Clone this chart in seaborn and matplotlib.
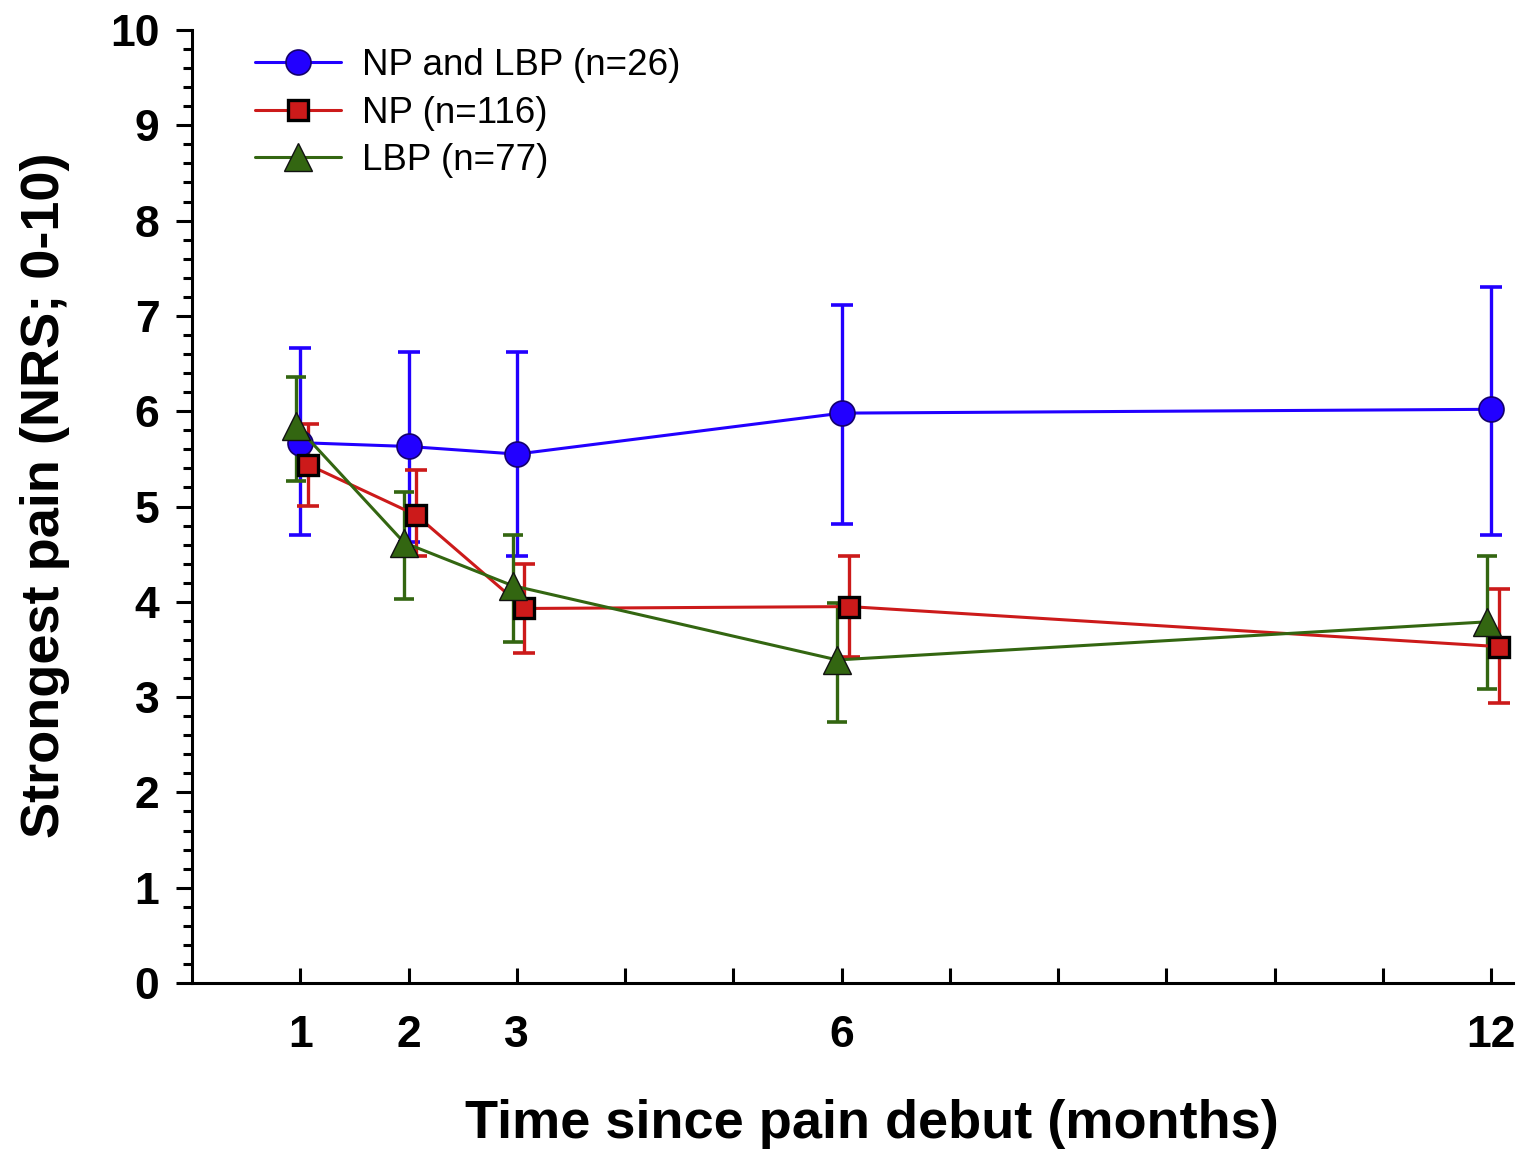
import matplotlib
matplotlib.use("Agg")
import matplotlib.pyplot as plt
import seaborn as sns
import numpy as np
import pandas as pd
from matplotlib.ticker import MultipleLocator, FixedLocator

# ---- data ----
months = [1, 2, 3, 6, 12]
series_names = ["NP and LBP (n=26)", "NP (n=116)", "LBP (n=77)"]

both_mean = [5.67, 5.63, 5.55, 5.98, 6.02]
both_low = [4.70, 4.63, 4.48, 4.82, 4.70]
both_high = [6.66, 6.62, 6.62, 7.11, 7.30]

np_mean = [5.44, 4.91, 3.93, 3.95, 3.53]
np_low = [5.01, 4.48, 3.46, 3.42, 2.94]
np_high = [5.87, 5.38, 4.40, 4.48, 4.13]

lbp_mean = [5.85, 4.62, 4.17, 3.39, 3.79]
lbp_low = [5.27, 4.03, 3.58, 2.74, 3.09]
lbp_high = [6.36, 5.15, 4.70, 3.99, 4.48]

x_tick_positions = list(range(1, 13))
x_tick_labels = ["1", "2", "3", "", "", "6", "", "", "", "", "", "12"]
y_ticks = list(range(0, 11))

# ---- style ----
sns.set_theme(style="ticks")
plt.rcParams["font.family"] = ["Liberation Sans", "DejaVu Sans"]

fig = plt.figure(figsize=(15.29, 11.5), dpi=100)
ax = fig.add_axes([0.1256, 0.1452, 0.9895 - 0.1256, 0.9739 - 0.1452])

styles = [
    dict(color="#2200ff", marker="o", ms=18, mec="#14006e", mew=1.2, cap=8, dodge=0.0),
    dict(color="#cc1a1a", marker="s", ms=14.5, mec="black", mew=2.4, cap=8, dodge=0.07),
    dict(color="#336611", marker="^", ms=19.5, mec="#111111", mew=1.0, cap=7, dodge=-0.04),
]
means = [both_mean, np_mean, lbp_mean]
lows = [both_low, np_low, lbp_low]
highs = [both_high, np_high, lbp_high]

for name, st, m, lo, hi in zip(series_names, styles, means, lows, highs):
    xs = np.array(months, dtype=float) + st["dodge"]
    df = pd.DataFrame({"month": xs, "pain": m})
    m_arr = np.array(m)
    yerr = np.vstack([m_arr - np.array(lo), np.array(hi) - m_arr])
    ax.errorbar(xs, m_arr, yerr=yerr, fmt="none", ecolor=st["color"],
                elinewidth=2.4, capsize=st["cap"], capthick=2.6, zorder=2)
    sns.lineplot(data=df, x="month", y="pain", ax=ax, color=st["color"],
                 marker=st["marker"], markersize=st["ms"], markeredgecolor=st["mec"],
                 markeredgewidth=st["mew"], markerfacecolor=st["color"],
                 linewidth=2.2, label=name, sort=False, zorder=3)

ax.set_xlim(0, 12.2)
ax.set_ylim(0, 10)

ax.xaxis.set_major_locator(FixedLocator(x_tick_positions))
ax.set_xticklabels(x_tick_labels)
ax.yaxis.set_major_locator(FixedLocator(y_ticks))
ax.yaxis.set_minor_locator(MultipleLocator(0.2))

for s in ["top", "right"]:
    ax.spines[s].set_visible(False)
for s in ["left", "bottom"]:
    ax.spines[s].set_linewidth(2.2)
    ax.spines[s].set_color("black")

ax.tick_params(axis="x", which="major", direction="in", length=11, width=2.2,
               pad=23, labelsize=32, colors="black")
ax.tick_params(axis="y", which="major", direction="out", length=11.5, width=2.2,
               pad=12, labelsize=32, colors="black")
ax.tick_params(axis="y", which="minor", direction="out", length=6.5, width=2.2, colors="black")
for lbl in ax.get_xticklabels() + ax.get_yticklabels():
    lbl.set_fontweight("bold")

ax.set_xlabel("Time since pain debut (months)", fontsize=39, fontweight="bold",
              labelpad=31, color="black")
ax.set_ylabel("Strongest pain (NRS; 0-10)", fontsize=39, fontweight="bold",
              labelpad=29, color="black")
ax.xaxis.label.set_x(0.515)
ax.yaxis.label.set_y(0.512)
ax.grid(False)

handles, labels = ax.get_legend_handles_labels()
leg = ax.legend(handles, labels, loc="upper left", bbox_to_anchor=(255 / 1529, 1 - 48 / 1150),
                bbox_transform=fig.transFigure, frameon=False, fontsize=26.5,
                handlelength=2.33, handletextpad=0.57, labelspacing=0.34, borderpad=0,
                borderaxespad=0)
for t in leg.get_texts():
    t.set_color("black")

fig.savefig("out.png", dpi=100)
